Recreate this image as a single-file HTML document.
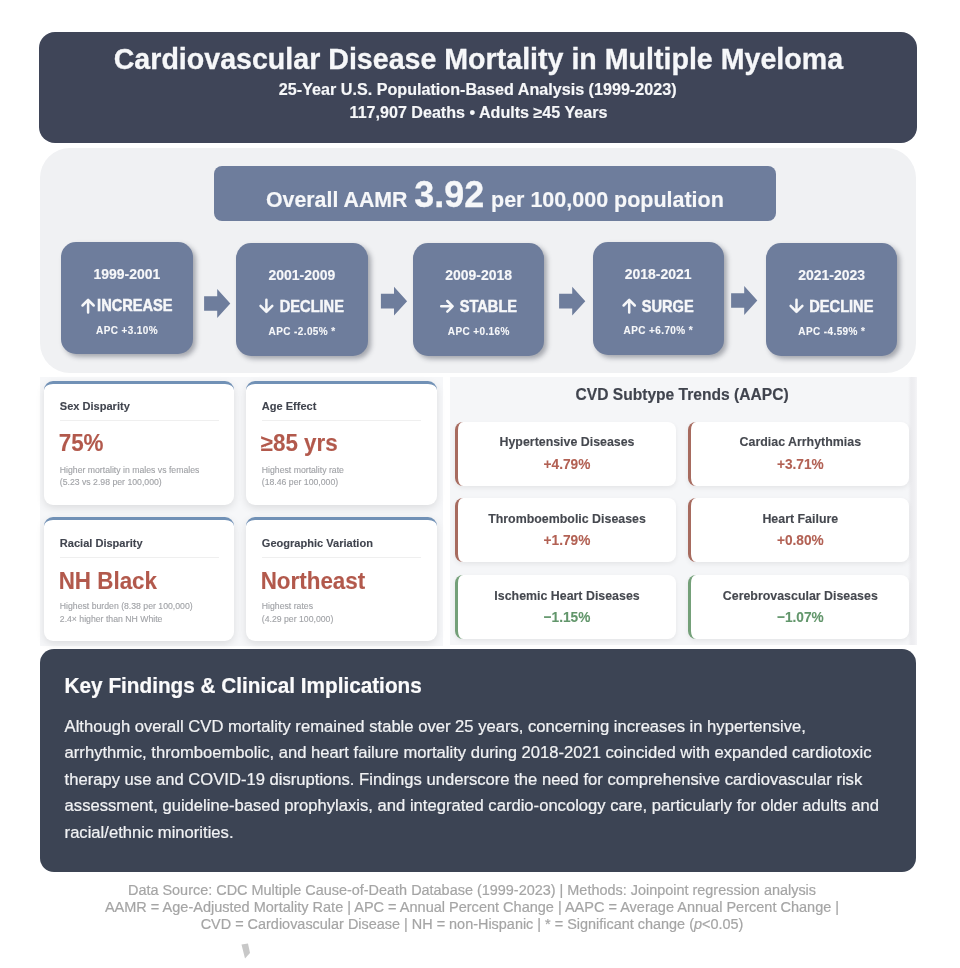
<!DOCTYPE html>
<html><head><meta charset="utf-8"><style>
html,body{margin:0;padding:0;background:#fff;}
body{width:960px;height:968px;position:relative;overflow:hidden;font-family:"Liberation Sans", sans-serif;}
svg.ov{position:absolute;left:0;top:0;will-change:transform;}
</style></head><body>
<div style="position:absolute;left:39px;top:32px;width:878px;height:110.5px;background:#3f4558;border-radius:16px;"></div>
<div style="position:absolute;left:40px;top:148px;width:876px;height:225px;background:#f0f1f3;border-radius:30px;"></div>
<div style="position:absolute;left:213.5px;top:166px;width:562.5px;height:55px;background:#6e7d9c;border-radius:8px;"></div>
<div style="position:absolute;left:61.25px;top:241.5px;width:131.25px;height:112.5px;background:#6e7d9c;border-radius:15px;box-shadow:3px 3px 5px rgba(40,45,60,0.38);"></div>
<div style="position:absolute;left:236.25px;top:243px;width:131.25px;height:112.5px;background:#6e7d9c;border-radius:15px;box-shadow:3px 3px 5px rgba(40,45,60,0.38);"></div>
<div style="position:absolute;left:413px;top:243px;width:131.25px;height:112.5px;background:#6e7d9c;border-radius:15px;box-shadow:3px 3px 5px rgba(40,45,60,0.38);"></div>
<div style="position:absolute;left:592.5px;top:242px;width:131.25px;height:112.5px;background:#6e7d9c;border-radius:15px;box-shadow:3px 3px 5px rgba(40,45,60,0.38);"></div>
<div style="position:absolute;left:766px;top:243px;width:131.25px;height:112.5px;background:#6e7d9c;border-radius:15px;box-shadow:3px 3px 5px rgba(40,45,60,0.38);"></div>
<div style="position:absolute;left:40px;top:376.5px;width:403px;height:269px;background:#f6f7f9;"></div>
<div style="position:absolute;left:43.5px;top:380.5px;width:190.5px;height:124px;background:#fff;border-radius:9px;border-top:3px solid #7191b6;box-sizing:border-box;box-shadow:0 3px 8px rgba(0,0,0,0.11);"></div>
<div style="position:absolute;left:60.0px;top:420.1px;width:158.5px;height:1px;background:#efefef;"></div>
<div style="position:absolute;left:245.5px;top:380.5px;width:191px;height:124px;background:#fff;border-radius:9px;border-top:3px solid #7191b6;box-sizing:border-box;box-shadow:0 3px 8px rgba(0,0,0,0.11);"></div>
<div style="position:absolute;left:262.0px;top:420.1px;width:159px;height:1px;background:#efefef;"></div>
<div style="position:absolute;left:43.5px;top:517px;width:190.5px;height:124px;background:#fff;border-radius:9px;border-top:3px solid #7191b6;box-sizing:border-box;box-shadow:0 3px 8px rgba(0,0,0,0.11);"></div>
<div style="position:absolute;left:60.0px;top:556.6px;width:158.5px;height:1px;background:#efefef;"></div>
<div style="position:absolute;left:245.5px;top:517px;width:191px;height:124px;background:#fff;border-radius:9px;border-top:3px solid #7191b6;box-sizing:border-box;box-shadow:0 3px 8px rgba(0,0,0,0.11);"></div>
<div style="position:absolute;left:262.0px;top:556.6px;width:159px;height:1px;background:#efefef;"></div>
<div style="position:absolute;left:449.5px;top:377px;width:467.5px;height:268px;background:linear-gradient(90deg,#f5f6f8 0,#f5f6f8 458px,#ececef 461px,#eeeef1 464px,#f6f6f8 467.5px);"></div>
<div style="position:absolute;left:455.0px;top:421.7px;width:221px;height:64px;background:#fff;border-radius:8px;border-left:3px solid #a76b5f;box-sizing:border-box;box-shadow:0 2px 5px rgba(0,0,0,0.07);"></div>
<div style="position:absolute;left:688.3px;top:421.7px;width:221px;height:64px;background:#fff;border-radius:8px;border-left:3px solid #a76b5f;box-sizing:border-box;box-shadow:0 2px 5px rgba(0,0,0,0.07);"></div>
<div style="position:absolute;left:455.0px;top:498.4px;width:221px;height:64px;background:#fff;border-radius:8px;border-left:3px solid #a76b5f;box-sizing:border-box;box-shadow:0 2px 5px rgba(0,0,0,0.07);"></div>
<div style="position:absolute;left:688.3px;top:498.4px;width:221px;height:64px;background:#fff;border-radius:8px;border-left:3px solid #a76b5f;box-sizing:border-box;box-shadow:0 2px 5px rgba(0,0,0,0.07);"></div>
<div style="position:absolute;left:455.0px;top:575.4px;width:221px;height:64px;background:#fff;border-radius:8px;border-left:3px solid #74a079;box-sizing:border-box;box-shadow:0 2px 5px rgba(0,0,0,0.07);"></div>
<div style="position:absolute;left:688.3px;top:575.4px;width:221px;height:64px;background:#fff;border-radius:8px;border-left:3px solid #74a079;box-sizing:border-box;box-shadow:0 2px 5px rgba(0,0,0,0.07);"></div>
<div style="position:absolute;left:40px;top:649px;width:876px;height:222.5px;background:#3c4454;border-radius:14px;"></div>
<svg class="ov" width="960" height="968" viewBox="0 0 960 968" font-family="Liberation Sans, sans-serif">
<text x="478.40" y="68.75" font-size="28.6" font-weight="700" fill="#f6f7f9" text-anchor="middle" stroke="#f6f7f9" stroke-width="0.29">Cardiovascular Disease Mortality in Multiple Myeloma</text>
<text x="477.70" y="95.30" font-size="16.15" font-weight="700" fill="#f6f7f9" text-anchor="middle" stroke="#f6f7f9" stroke-width="0.16">25-Year U.S. Population-Based Analysis (1999-2023)</text>
<text x="478.50" y="118.40" font-size="16.1" font-weight="700" fill="#f6f7f9" text-anchor="middle" stroke="#f6f7f9" stroke-width="0.16">117,907 Deaths &#8226; Adults &#8805;45 Years</text>
<g transform="translate(266.00,207.20) scale(1.0,1.02)"><text font-size="21.35" font-weight="700" fill="#f6f7f9" text-anchor="start" stroke="#f6f7f9" stroke-width="0.15">Overall AAMR</text></g>
<g transform="translate(414.30,207.40) scale(1.0,1.04)"><text font-size="35.9" font-weight="700" fill="#f6f7f9" text-anchor="start" stroke="#f6f7f9" stroke-width="0.3">3.92</text></g>
<g transform="translate(491.00,207.20) scale(1.0,1.02)"><text font-size="21.5" font-weight="700" fill="#f6f7f9" text-anchor="start" stroke="#f6f7f9" stroke-width="0.15">per 100,000 population</text></g>
<g transform="translate(126.85,279.10) scale(1.0,1.02)"><text font-size="14" font-weight="700" fill="#f6f7f9" text-anchor="middle" stroke="#f6f7f9" stroke-width="0.14">1999-2001</text></g>
<path transform="translate(81.20,297.50)" d="M6.9 14.9V2.4M1.3 8L6.9 2.4L12.5 8" fill="none" stroke="#f6f7f9" stroke-width="2.5" stroke-linecap="round" stroke-linejoin="round"/>
<g transform="translate(97.10,311.30) scale(0.87,0.97)"><text font-size="16.8" font-weight="700" fill="#f6f7f9" text-anchor="start" stroke="#f6f7f9" stroke-width="0.5">INCREASE</text></g>
<g transform="translate(127.05,333.90) scale(1.0,1.04)"><text font-size="10" font-weight="700" fill="#f6f7f9" text-anchor="middle" letter-spacing="0.4" stroke="#f6f7f9" stroke-width="0.1">APC +3.10%</text></g>
<g transform="translate(301.85,280.10) scale(1.0,1.02)"><text font-size="14" font-weight="700" fill="#f6f7f9" text-anchor="middle" stroke="#f6f7f9" stroke-width="0.14">2001-2009</text></g>
<path transform="translate(259.30,297.50)" d="M7.1 2.2V14.3M1.2 8.4L7.1 14.3L13 8.4" fill="none" stroke="#f6f7f9" stroke-width="2.5" stroke-linecap="round" stroke-linejoin="round"/>
<g transform="translate(279.80,311.90) scale(0.87,0.97)"><text font-size="16.8" font-weight="700" fill="#f6f7f9" text-anchor="start" stroke="#f6f7f9" stroke-width="0.5">DECLINE</text></g>
<g transform="translate(302.05,335.40) scale(1.0,1.04)"><text font-size="10" font-weight="700" fill="#f6f7f9" text-anchor="middle" letter-spacing="0.4" stroke="#f6f7f9" stroke-width="0.1">APC -2.05% *</text></g>
<g transform="translate(478.60,280.10) scale(1.0,1.02)"><text font-size="14" font-weight="700" fill="#f6f7f9" text-anchor="middle" stroke="#f6f7f9" stroke-width="0.14">2009-2018</text></g>
<path transform="translate(440.20,297.80)" d="M1 8.5H12.4M7.1 3.2L12.4 8.5L7.1 13.8" fill="none" stroke="#f6f7f9" stroke-width="2.5" stroke-linecap="round" stroke-linejoin="round"/>
<g transform="translate(459.70,311.90) scale(0.87,0.97)"><text font-size="16.8" font-weight="700" fill="#f6f7f9" text-anchor="start" stroke="#f6f7f9" stroke-width="0.5">STABLE</text></g>
<g transform="translate(478.80,335.40) scale(1.0,1.04)"><text font-size="10" font-weight="700" fill="#f6f7f9" text-anchor="middle" letter-spacing="0.4" stroke="#f6f7f9" stroke-width="0.1">APC +0.16%</text></g>
<g transform="translate(658.10,279.00) scale(1.0,1.02)"><text font-size="14" font-weight="700" fill="#f6f7f9" text-anchor="middle" stroke="#f6f7f9" stroke-width="0.14">2018-2021</text></g>
<path transform="translate(622.30,297.50)" d="M6.9 14.9V2.4M1.3 8L6.9 2.4L12.5 8" fill="none" stroke="#f6f7f9" stroke-width="2.5" stroke-linecap="round" stroke-linejoin="round"/>
<g transform="translate(641.70,311.50) scale(0.87,0.97)"><text font-size="16.8" font-weight="700" fill="#f6f7f9" text-anchor="start" stroke="#f6f7f9" stroke-width="0.5">SURGE</text></g>
<g transform="translate(658.30,334.40) scale(1.0,1.04)"><text font-size="10" font-weight="700" fill="#f6f7f9" text-anchor="middle" letter-spacing="0.4" stroke="#f6f7f9" stroke-width="0.1">APC +6.70% *</text></g>
<g transform="translate(831.60,280.10) scale(1.0,1.02)"><text font-size="14" font-weight="700" fill="#f6f7f9" text-anchor="middle" stroke="#f6f7f9" stroke-width="0.14">2021-2023</text></g>
<path transform="translate(789.40,297.50)" d="M7.1 2.2V14.3M1.2 8.4L7.1 14.3L13 8.4" fill="none" stroke="#f6f7f9" stroke-width="2.5" stroke-linecap="round" stroke-linejoin="round"/>
<g transform="translate(809.30,311.90) scale(0.87,0.97)"><text font-size="16.8" font-weight="700" fill="#f6f7f9" text-anchor="start" stroke="#f6f7f9" stroke-width="0.5">DECLINE</text></g>
<g transform="translate(831.80,335.40) scale(1.0,1.04)"><text font-size="10" font-weight="700" fill="#f6f7f9" text-anchor="middle" letter-spacing="0.4" stroke="#f6f7f9" stroke-width="0.1">APC -4.59% *</text></g>
<path transform="translate(204.10,289.10)" d="M0 7.1H13.1V0L26.2 14.4L13.1 28.8V21.7H0Z" fill="#6e7d9c"/>
<path transform="translate(380.90,286.75)" d="M0 7.1H13.1V0L26.2 14.4L13.1 28.8V21.7H0Z" fill="#6e7d9c"/>
<path transform="translate(559.10,286.75)" d="M0 7.1H13.1V0L26.2 14.4L13.1 28.8V21.7H0Z" fill="#6e7d9c"/>
<path transform="translate(731.10,286.10)" d="M0 7.1H13.1V0L26.2 14.4L13.1 28.8V21.7H0Z" fill="#6e7d9c"/>
<text x="59.80" y="410.10" font-size="11.05" font-weight="700" fill="#40444e" text-anchor="start" stroke="#40444e" stroke-width="0.11">Sex Disparity</text>
<g transform="translate(58.70,451.20) scale(1.0,1.04)"><text font-size="22.4" font-weight="700" fill="#b2594c" text-anchor="start" stroke="#b2594c" stroke-width="0.12">75%</text></g>
<text x="59.80" y="472.70" font-size="8.7" fill="#a0a2a6" text-anchor="start" stroke="#a0a2a6" stroke-width="0.12">Higher mortality in males vs females</text>
<text x="59.80" y="484.80" font-size="8.7" fill="#a0a2a6" text-anchor="start" stroke="#a0a2a6" stroke-width="0.12">(5.23 vs 2.98 per 100,000)</text>
<text x="261.80" y="410.10" font-size="11.05" font-weight="700" fill="#40444e" text-anchor="start" stroke="#40444e" stroke-width="0.11">Age Effect</text>
<g transform="translate(260.70,451.20) scale(1.0,1.04)"><text font-size="22.4" font-weight="700" fill="#b2594c" text-anchor="start" stroke="#b2594c" stroke-width="0.12">&#8805;85 yrs</text></g>
<text x="261.80" y="472.70" font-size="8.7" fill="#a0a2a6" text-anchor="start" stroke="#a0a2a6" stroke-width="0.12">Highest mortality rate</text>
<text x="261.80" y="484.80" font-size="8.7" fill="#a0a2a6" text-anchor="start" stroke="#a0a2a6" stroke-width="0.12">(18.46 per 100,000)</text>
<text x="59.80" y="546.60" font-size="11.05" font-weight="700" fill="#40444e" text-anchor="start" stroke="#40444e" stroke-width="0.11">Racial Disparity</text>
<g transform="translate(58.70,588.50) scale(1.0,1.04)"><text font-size="22.4" font-weight="700" fill="#b2594c" text-anchor="start" stroke="#b2594c" stroke-width="0.12">NH Black</text></g>
<text x="59.80" y="609.20" font-size="8.7" fill="#a0a2a6" text-anchor="start" stroke="#a0a2a6" stroke-width="0.12">Highest burden (8.38 per 100,000)</text>
<text x="59.80" y="621.90" font-size="8.7" fill="#a0a2a6" text-anchor="start" stroke="#a0a2a6" stroke-width="0.12">2.4&#215; higher than NH White</text>
<text x="261.80" y="546.60" font-size="11.05" font-weight="700" fill="#40444e" text-anchor="start" stroke="#40444e" stroke-width="0.11">Geographic Variation</text>
<g transform="translate(260.70,588.50) scale(1.0,1.04)"><text font-size="22.4" font-weight="700" fill="#b2594c" text-anchor="start" stroke="#b2594c" stroke-width="0.12">Northeast</text></g>
<text x="261.80" y="609.20" font-size="8.7" fill="#a0a2a6" text-anchor="start" stroke="#a0a2a6" stroke-width="0.12">Highest rates</text>
<text x="261.80" y="621.90" font-size="8.7" fill="#a0a2a6" text-anchor="start" stroke="#a0a2a6" stroke-width="0.12">(4.29 per 100,000)</text>
<text x="682.10" y="400.00" font-size="15.6" font-weight="700" fill="#40444e" text-anchor="middle" stroke="#40444e" stroke-width="0.16">CVD Subtype Trends (AAPC)</text>
<g transform="translate(567.00,446.30) scale(1.0,1.03)"><text font-size="12.4" font-weight="700" fill="#45484f" text-anchor="middle" stroke="#45484f" stroke-width="0.12">Hypertensive Diseases</text></g>
<g transform="translate(567.00,468.60) scale(1.0,1.08)"><text font-size="13.7" font-weight="700" fill="#b26154" text-anchor="middle" stroke="#b26154" stroke-width="0.1">+4.79%</text></g>
<g transform="translate(800.30,446.30) scale(1.0,1.03)"><text font-size="12.4" font-weight="700" fill="#45484f" text-anchor="middle" stroke="#45484f" stroke-width="0.12">Cardiac Arrhythmias</text></g>
<g transform="translate(800.30,468.60) scale(1.0,1.08)"><text font-size="13.7" font-weight="700" fill="#b26154" text-anchor="middle" stroke="#b26154" stroke-width="0.1">+3.71%</text></g>
<g transform="translate(567.00,523.00) scale(1.0,1.03)"><text font-size="12.4" font-weight="700" fill="#45484f" text-anchor="middle" stroke="#45484f" stroke-width="0.12">Thromboembolic Diseases</text></g>
<g transform="translate(567.00,545.30) scale(1.0,1.08)"><text font-size="13.7" font-weight="700" fill="#b26154" text-anchor="middle" stroke="#b26154" stroke-width="0.1">+1.79%</text></g>
<g transform="translate(800.30,523.00) scale(1.0,1.03)"><text font-size="12.4" font-weight="700" fill="#45484f" text-anchor="middle" stroke="#45484f" stroke-width="0.12">Heart Failure</text></g>
<g transform="translate(800.30,545.30) scale(1.0,1.08)"><text font-size="13.7" font-weight="700" fill="#b26154" text-anchor="middle" stroke="#b26154" stroke-width="0.1">+0.80%</text></g>
<g transform="translate(567.00,600.00) scale(1.0,1.03)"><text font-size="12.4" font-weight="700" fill="#45484f" text-anchor="middle" stroke="#45484f" stroke-width="0.12">Ischemic Heart Diseases</text></g>
<g transform="translate(567.00,622.30) scale(1.0,1.08)"><text font-size="13.7" font-weight="700" fill="#62966b" text-anchor="middle" stroke="#62966b" stroke-width="0.1">&#8722;1.15%</text></g>
<g transform="translate(800.30,600.00) scale(1.0,1.03)"><text font-size="12.4" font-weight="700" fill="#45484f" text-anchor="middle" stroke="#45484f" stroke-width="0.12">Cerebrovascular Diseases</text></g>
<g transform="translate(800.30,622.30) scale(1.0,1.08)"><text font-size="13.7" font-weight="700" fill="#62966b" text-anchor="middle" stroke="#62966b" stroke-width="0.1">&#8722;1.07%</text></g>
<g transform="translate(64.60,692.90) scale(1.0,1.03)"><text font-size="20.75" font-weight="700" fill="#fbfbfc" text-anchor="start" stroke="#fbfbfc" stroke-width="0.2">Key Findings &amp; Clinical Implications</text></g>
<g transform="translate(64.60,731.90) scale(1.0,1.03)"><text font-size="16.61" fill="#f1f2f4" text-anchor="start" stroke="#f1f2f4" stroke-width="0.23">Although overall CVD mortality remained stable over 25 years, concerning increases in hypertensive,</text></g>
<g transform="translate(64.60,758.35) scale(1.0,1.03)"><text font-size="16.61" fill="#f1f2f4" text-anchor="start" stroke="#f1f2f4" stroke-width="0.23">arrhythmic, thromboembolic, and heart failure mortality during 2018-2021 coincided with expanded cardiotoxic</text></g>
<g transform="translate(64.60,784.80) scale(1.0,1.03)"><text font-size="16.61" fill="#f1f2f4" text-anchor="start" stroke="#f1f2f4" stroke-width="0.23">therapy use and COVID-19 disruptions. Findings underscore the need for comprehensive cardiovascular risk</text></g>
<g transform="translate(64.60,811.25) scale(1.0,1.03)"><text font-size="16.61" fill="#f1f2f4" text-anchor="start" stroke="#f1f2f4" stroke-width="0.23">assessment, guideline-based prophylaxis, and integrated cardio-oncology care, particularly for older adults and</text></g>
<g transform="translate(64.60,837.70) scale(1.0,1.03)"><text font-size="16.61" fill="#f1f2f4" text-anchor="start" stroke="#f1f2f4" stroke-width="0.23">racial/ethnic minorities.</text></g>
<g transform="translate(472.00,895.20) scale(1.0,1.02)"><text font-size="14.45" fill="#a5a5a5" text-anchor="middle" stroke="#a5a5a5" stroke-width="0.2">Data Source: CDC Multiple Cause-of-Death Database (1999-2023) | Methods: Joinpoint regression analysis</text></g>
<g transform="translate(472.00,912.30) scale(1.0,1.02)"><text font-size="14.52" fill="#a5a5a5" text-anchor="middle" stroke="#a5a5a5" stroke-width="0.2">AAMR = Age-Adjusted Mortality Rate | APC = Annual Percent Change | AAPC = Average Annual Percent Change |</text></g>
<g transform="translate(472.00,929.40) scale(1.0,1.02)"><text font-size="14.45" fill="#a5a5a5" text-anchor="middle" stroke="#a5a5a5" stroke-width="0.2">CVD = Cardiovascular Disease | NH = non-Hispanic | * = Significant change (<tspan font-style="italic">p</tspan>&lt;0.05)</text></g>
<path transform="translate(240,943)" d="M1.5 1.5L8 0.5L10 10L5 15.5Z" fill="#c8c8c8"/>
</svg>
</body></html>
